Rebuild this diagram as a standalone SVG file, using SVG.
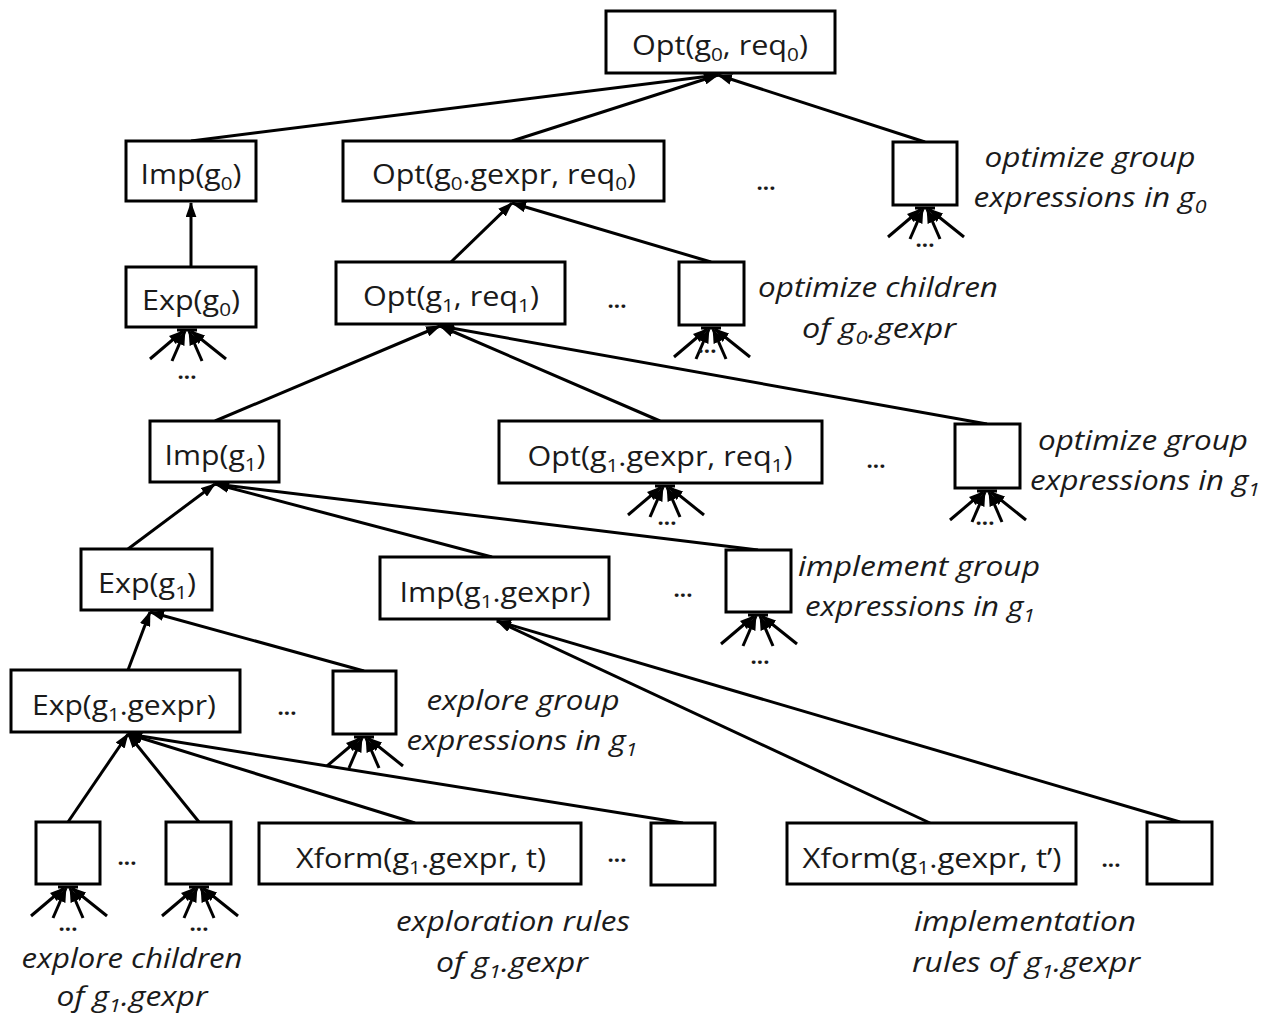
<svg xmlns="http://www.w3.org/2000/svg" xmlns:xlink="http://www.w3.org/1999/xlink" width="1271" height="1017" viewBox="0 0 1271 1017">
<style>
.box{fill:#fff;stroke:#000;stroke-width:3}
.lbl{font-family:"Open Sans","Liberation Sans",sans-serif;font-size:28px;fill:#1a1a1a;text-anchor:middle}
.it{font-family:"Open Sans","Liberation Sans",sans-serif;font-size:28px;font-style:italic;fill:#1a1a1a;text-anchor:middle}
.sub{font-size:19px}
.dots{font-family:"Open Sans","Liberation Sans",sans-serif;font-size:22px;font-weight:bold;fill:#1a1a1a;text-anchor:middle}
.edge{stroke:#000;stroke-width:3;fill:none}
</style>
<defs>
<marker id="ah" viewBox="0 0 14 10" refX="13" refY="5" markerWidth="15" markerHeight="11" markerUnits="userSpaceOnUse" orient="auto">
<path d="M0,0 L14,5 L0,10 z" fill="#000"/>
</marker>
<g id="fan" class="edge">
<line x1="-37" y1="30" x2="-4" y2="2" marker-end="url(#ah)"/>
<line x1="-15" y1="32" x2="-2" y2="2" marker-end="url(#ah)"/>
<line x1="15" y1="32" x2="2" y2="2" marker-end="url(#ah)"/>
<line x1="39" y1="30" x2="4" y2="2" marker-end="url(#ah)"/>
<line x1="-10" y1="1" x2="10" y2="1"/>
</g>
</defs>

<g id="connectors" class="edge">
<line x1="191" y1="141" x2="718" y2="75" marker-end="url(#ah)"/>
<line x1="512" y1="141" x2="718" y2="75" marker-end="url(#ah)"/>
<line x1="925" y1="142" x2="718" y2="75" marker-end="url(#ah)"/>
<line x1="191" y1="267" x2="191" y2="203" marker-end="url(#ah)"/>
<line x1="451" y1="262" x2="512" y2="203" marker-end="url(#ah)"/>
<line x1="711" y1="262" x2="512" y2="203" marker-end="url(#ah)"/>
<line x1="215" y1="421" x2="440" y2="326" marker-end="url(#ah)"/>
<line x1="660" y1="421" x2="440" y2="326" marker-end="url(#ah)"/>
<line x1="987" y1="424" x2="440" y2="326" marker-end="url(#ah)"/>
<line x1="128" y1="549" x2="215" y2="484" marker-end="url(#ah)"/>
<line x1="492" y1="557" x2="215" y2="484" marker-end="url(#ah)"/>
<line x1="758" y1="550" x2="215" y2="484" marker-end="url(#ah)"/>
<line x1="128" y1="670" x2="150" y2="612" marker-end="url(#ah)"/>
<line x1="364" y1="671" x2="150" y2="612" marker-end="url(#ah)"/>
<line x1="68" y1="822" x2="128" y2="734" marker-end="url(#ah)"/>
<line x1="199" y1="822" x2="128" y2="734" marker-end="url(#ah)"/>
<line x1="415" y1="823" x2="128" y2="734" marker-end="url(#ah)"/>
<line x1="683" y1="823" x2="128" y2="734" marker-end="url(#ah)"/>
<line x1="930" y1="823" x2="497" y2="621" marker-end="url(#ah)"/>
<line x1="1180" y1="822" x2="497" y2="621" marker-end="url(#ah)"/>
<use xlink:href="#fan" x="925" y="207"/>
<use xlink:href="#fan" x="187" y="329"/>
<use xlink:href="#fan" x="711" y="327"/>
<use xlink:href="#fan" x="665" y="485"/>
<use xlink:href="#fan" x="987" y="490"/>
<use xlink:href="#fan" x="758" y="614"/>
<use xlink:href="#fan" x="364" y="736"/>
<use xlink:href="#fan" x="68" y="886"/>
<use xlink:href="#fan" x="199" y="886"/>
</g>

<g id="n-opt-g0">
<rect class="box" x="606" y="11" width="229" height="62"/>
<text class="lbl" x="720" y="55" textLength="176" lengthAdjust="spacingAndGlyphs">Opt(g<tspan class="sub" dy="6">0</tspan><tspan dy="-6">, req</tspan><tspan class="sub" dy="6">0</tspan><tspan dy="-6">)</tspan></text>
</g>
<g id="n-imp-g0">
<rect class="box" x="126" y="141" width="130" height="60"/>
<text class="lbl" x="191" y="184" textLength="101" lengthAdjust="spacingAndGlyphs">Imp(g<tspan class="sub" dy="6">0</tspan><tspan dy="-6">)</tspan></text>
</g>
<g id="n-opt-g0-gexpr">
<rect class="box" x="343" y="141" width="321" height="60"/>
<text class="lbl" x="504" y="184" textLength="264" lengthAdjust="spacingAndGlyphs">Opt(g<tspan class="sub" dy="6">0</tspan><tspan dy="-6">.gexpr, req</tspan><tspan class="sub" dy="6">0</tspan><tspan dy="-6">)</tspan></text>
</g>
<text class="dots" x="766" y="190">...</text>
<g id="n-optgrp-g0">
<rect class="box" x="893" y="142" width="64" height="63"/>
</g>
<text class="dots" x="925" y="247">...</text>
<text class="it" x="1090" y="167" textLength="211" lengthAdjust="spacingAndGlyphs">optimize group</text>
<text class="it" x="1090" y="207" textLength="233" lengthAdjust="spacingAndGlyphs">expressions in g<tspan class="sub" dy="6">0</tspan></text>

<g id="n-exp-g0">
<rect class="box" x="126" y="267" width="130" height="60"/>
<text class="lbl" x="191" y="310" textLength="98" lengthAdjust="spacingAndGlyphs">Exp(g<tspan class="sub" dy="6">0</tspan><tspan dy="-6">)</tspan></text>
</g>
<text class="dots" x="187" y="379">...</text>
<g id="n-opt-g1">
<rect class="box" x="336" y="262" width="229" height="62"/>
<text class="lbl" x="451" y="306" textLength="176" lengthAdjust="spacingAndGlyphs">Opt(g<tspan class="sub" dy="6">1</tspan><tspan dy="-6">, req</tspan><tspan class="sub" dy="6">1</tspan><tspan dy="-6">)</tspan></text>
</g>
<text class="dots" x="617" y="308">...</text>
<g id="n-optchildren">
<rect class="box" x="679" y="262" width="65" height="63"/>
</g>
<text class="dots" x="707" y="353">...</text>
<text class="it" x="878" y="297" textLength="240" lengthAdjust="spacingAndGlyphs">optimize children</text>
<text class="it" x="879" y="338" textLength="154" lengthAdjust="spacingAndGlyphs">of g<tspan class="sub" dy="6">0</tspan><tspan dy="-6">.gexpr</tspan></text>

<g id="n-imp-g1">
<rect class="box" x="150" y="421" width="129" height="61"/>
<text class="lbl" x="215" y="465" textLength="101" lengthAdjust="spacingAndGlyphs">Imp(g<tspan class="sub" dy="6">1</tspan><tspan dy="-6">)</tspan></text>
</g>
<g id="n-opt-g1-gexpr">
<rect class="box" x="499" y="421" width="323" height="62"/>
<text class="lbl" x="660" y="466" textLength="265" lengthAdjust="spacingAndGlyphs">Opt(g<tspan class="sub" dy="6">1</tspan><tspan dy="-6">.gexpr, req</tspan><tspan class="sub" dy="6">1</tspan><tspan dy="-6">)</tspan></text>
</g>
<text class="dots" x="667" y="525">...</text>
<text class="dots" x="876" y="468">...</text>
<g id="n-optgrp-g1">
<rect class="box" x="955" y="424" width="65" height="64"/>
</g>
<text class="dots" x="985" y="525">...</text>
<text class="it" x="1143" y="450" textLength="210" lengthAdjust="spacingAndGlyphs">optimize group</text>
<text class="it" x="1145" y="490" textLength="230" lengthAdjust="spacingAndGlyphs">expressions in g<tspan class="sub" dy="6">1</tspan></text>

<g id="n-exp-g1">
<rect class="box" x="81" y="549" width="131" height="61"/>
<text class="lbl" x="147" y="593" textLength="98" lengthAdjust="spacingAndGlyphs">Exp(g<tspan class="sub" dy="6">1</tspan><tspan dy="-6">)</tspan></text>
</g>
<g id="n-imp-g1-gexpr">
<rect class="box" x="380" y="557" width="229" height="62"/>
<text class="lbl" x="495" y="602" textLength="191" lengthAdjust="spacingAndGlyphs">Imp(g<tspan class="sub" dy="6">1</tspan><tspan dy="-6">.gexpr)</tspan></text>
</g>
<text class="dots" x="683" y="597">...</text>
<g id="n-impgrp-g1">
<rect class="box" x="726" y="550" width="65" height="62"/>
</g>
<text class="dots" x="760" y="664">...</text>
<text class="it" x="919" y="576" textLength="242" lengthAdjust="spacingAndGlyphs">implement group</text>
<text class="it" x="920" y="616" textLength="230" lengthAdjust="spacingAndGlyphs">expressions in g<tspan class="sub" dy="6">1</tspan></text>

<g id="n-exp-g1-gexpr">
<rect class="box" x="11" y="670" width="229" height="62"/>
<text class="lbl" x="124" y="715" textLength="184" lengthAdjust="spacingAndGlyphs">Exp(g<tspan class="sub" dy="6">1</tspan><tspan dy="-6">.gexpr)</tspan></text>
</g>
<text class="dots" x="287" y="715">...</text>
<g id="n-expgrp-g1">
<rect class="box" x="333" y="671" width="63" height="63"/>
</g>
<text class="it" x="523" y="710" textLength="193" lengthAdjust="spacingAndGlyphs">explore group</text>
<text class="it" x="522" y="750" textLength="231" lengthAdjust="spacingAndGlyphs">expressions in g<tspan class="sub" dy="6">1</tspan></text>

<g id="n-child1">
<rect class="box" x="36" y="822" width="64" height="62"/>
</g>
<text class="dots" x="127" y="865">...</text>
<g id="n-child2">
<rect class="box" x="166" y="822" width="65" height="62"/>
</g>
<text class="dots" x="68" y="931">...</text>
<text class="dots" x="199" y="931">...</text>
<g id="n-xform-t">
<rect class="box" x="259" y="823" width="322" height="61"/>
<text class="lbl" x="421" y="868" textLength="250" lengthAdjust="spacingAndGlyphs">Xform(g<tspan class="sub" dy="6">1</tspan><tspan dy="-6">.gexpr, t)</tspan></text>
</g>
<text class="dots" x="617" y="862">...</text>
<g id="n-xrule">
<rect class="box" x="651" y="823" width="64" height="62"/>
</g>
<g id="n-xform-t2">
<rect class="box" x="787" y="823" width="289" height="61"/>
<text class="lbl" x="932" y="868" textLength="259" lengthAdjust="spacingAndGlyphs">Xform(g<tspan class="sub" dy="6">1</tspan><tspan dy="-6">.gexpr, t’)</tspan></text>
</g>
<text class="dots" x="1111" y="867">...</text>
<g id="n-irule">
<rect class="box" x="1147" y="822" width="65" height="62"/>
</g>

<text class="it" x="132" y="968" textLength="221" lengthAdjust="spacingAndGlyphs">explore children</text>
<text class="it" x="132" y="1006" textLength="151" lengthAdjust="spacingAndGlyphs">of g<tspan class="sub" dy="6">1</tspan><tspan dy="-6">.gexpr</tspan></text>
<text class="it" x="513" y="931" textLength="234" lengthAdjust="spacingAndGlyphs">exploration rules</text>
<text class="it" x="512" y="972" textLength="152" lengthAdjust="spacingAndGlyphs">of g<tspan class="sub" dy="6">1</tspan><tspan dy="-6">.gexpr</tspan></text>
<text class="it" x="1025" y="931" textLength="222" lengthAdjust="spacingAndGlyphs">implementation</text>
<text class="it" x="1026" y="972" textLength="228" lengthAdjust="spacingAndGlyphs">rules of g<tspan class="sub" dy="6">1</tspan><tspan dy="-6">.gexpr</tspan></text>
</svg>
